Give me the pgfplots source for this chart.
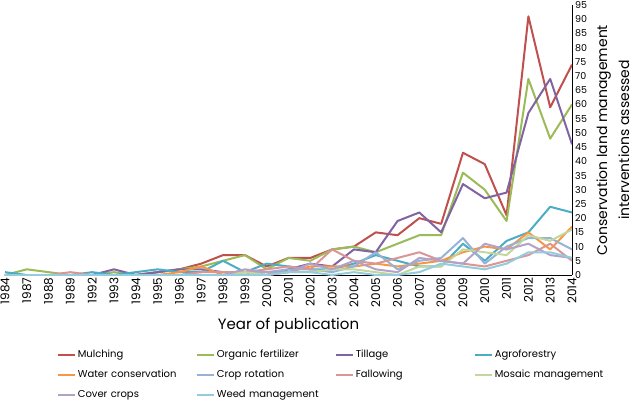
\documentclass[border=0pt]{standalone}
\usepackage{fontspec}
\setmainfont{Poppins}
\usepackage{pgfplots}
\pgfplotsset{compat=1.18}
\definecolor{cMulch}{HTML}{C0504D}
\definecolor{cOrg}{HTML}{9BBB59}
\definecolor{cTill}{HTML}{8064A2}
\definecolor{cAgro}{HTML}{4BACC6}
\definecolor{cWater}{HTML}{F79646}
\definecolor{cCrop}{HTML}{95B3D7}
\definecolor{cFall}{HTML}{D99694}
\definecolor{cMosaic}{HTML}{C3D69B}
\definecolor{cCover}{HTML}{B3A2C7}
\definecolor{cWeed}{HTML}{93CDDD}
\begin{document}
\begin{tikzpicture}
\begin{axis}[
  scale only axis, width=567pt, height=270pt,
  xmin=0, xmax=26, ymin=0, ymax=95,
  axis x line*=bottom, axis y line*=right,
  axis line style={black, line width=1pt},
  ytick={0,5,...,95},
  xtick={0,...,26},
  xticklabels={1984,1987,1988,1989,1992,1993,1994,1995,1996,1997,1998,1999,2000,2001,2002,2003,2004,2005,2006,2007,2008,2009,2010,2011,2012,2013,2014},
  x tick label style={rotate=90, anchor=east, font=\fontsize{12}{12}\selectfont, inner sep=2.5pt},
  y tick label style={font=\fontsize{9.5}{9.5}\selectfont, inner sep=3pt},
  major tick length=0pt,
  /pgf/number format/assume math mode=true,
  xlabel={Year of publication},
  xlabel style={font=\fontsize{15}{15}\selectfont, inner sep=3pt, yshift=-5pt},
  ylabel={Conservation land management\\interventions assessed},
  ylabel style={font=\fontsize{14}{22}\selectfont, align=center, inner sep=3pt, yshift=-3pt},
  legend columns=4,
  legend cell align=left,
  legend style={draw=none, at={(0.091,-0.27)}, anchor=north west,
    font=\fontsize{10}{10}\selectfont, row sep=7pt, inner sep=0pt,
    /tikz/every even column/.append style={text width=116pt, align=left}},
  legend image code/.code={\draw[#1, line width=2pt] (0pt,0pt) -- (17pt,0pt);},
  every axis plot/.append style={line width=2pt, mark=none, line join=round},
]
\addplot[cMulch] coordinates {(0,0)(1,0)(2,0)(3,0)(4,0)(5,0)(6,0)(7,1)(8,2)(9,4)(10,7)(11,7)(12,3)(13,6)(14,6)(15,9)(16,10)(17,15)(18,14)(19,20)(20,18)(21,43)(22,39)(23,21)(24,91)(25,59)(26,74)};
\addlegendentry{Mulching}
\addplot[cOrg] coordinates {(0,0)(1,2)(2,1)(3,0)(4,0)(5,1)(6,0)(7,1)(8,2)(9,3)(10,5)(11,7)(12,2)(13,6)(14,5)(15,9)(16,10)(17,8)(18,11)(19,14)(20,14)(21,36)(22,30)(23,19)(24,69)(25,48)(26,60)};
\addlegendentry{Organic fertilizer}
\addplot[cTill] coordinates {(0,0)(1,0)(2,0)(3,0)(4,0)(5,2)(6,0)(7,1)(8,2)(9,2)(10,1)(11,1)(12,0)(13,2)(14,4)(15,3)(16,9)(17,8)(18,19)(19,22)(20,15)(21,32)(22,27)(23,29)(24,57)(25,69)(26,46)};
\addlegendentry{Tillage}
\addplot[cAgro] coordinates {(0,1)(1,0)(2,0)(3,0)(4,1)(5,0)(6,1)(7,2)(8,1)(9,1)(10,5)(11,1)(12,4)(13,3)(14,2)(15,2)(16,4)(17,7)(18,5)(19,3)(20,3)(21,11)(22,5)(23,12)(24,15)(25,24)(26,22)};
\addlegendentry{Agroforestry}
\addplot[cWater] coordinates {(0,0)(1,0)(2,0)(3,0)(4,0)(5,0)(6,0)(7,0)(8,1)(9,3)(10,0)(11,0)(12,0)(13,1)(14,3)(15,3)(16,3)(17,4)(18,3)(19,4)(20,5)(21,8)(22,10)(23,9)(24,15)(25,9)(26,17)};
\addlegendentry{Water conservation}
\addplot[cCrop] coordinates {(0,0)(1,0)(2,0)(3,0)(4,0)(5,0)(6,0)(7,0)(8,0)(9,0)(10,0)(11,1)(12,1)(13,2)(14,2)(15,1)(16,3)(17,8)(18,2)(19,5)(20,6)(21,13)(22,4)(23,10)(24,13)(25,13)(26,9)};
\addlegendentry{Crop rotation}
\addplot[cFall] coordinates {(0,0)(1,0)(2,0)(3,1)(4,0)(5,0)(6,0)(7,0)(8,0)(9,1)(10,1)(11,1)(12,2)(13,3)(14,2)(15,9)(16,5)(17,4)(18,6)(19,8)(20,5)(21,4)(22,3)(23,5)(24,7)(25,11)(26,5)};
\addlegendentry{Fallowing}
\addplot[cMosaic] coordinates {(0,0)(1,0)(2,0)(3,0)(4,0)(5,0)(6,0)(7,0)(8,0)(9,0)(10,0)(11,1)(12,0)(13,1)(14,1)(15,2)(16,2)(17,1)(18,0)(19,3)(20,3)(21,9)(22,8)(23,7)(24,14)(25,12)(26,16)};
\addlegendentry{Mosaic management}
\addplot[cCover] coordinates {(0,0)(1,0)(2,0)(3,0)(4,0)(5,0)(6,0)(7,0)(8,0)(9,0)(10,0)(11,2)(12,1)(13,1)(14,4)(15,2)(16,5)(17,2)(18,1)(19,6)(20,5)(21,4)(22,11)(23,9)(24,11)(25,7)(26,6)};
\addlegendentry{Cover crops}
\addplot[cWeed] coordinates {(0,0)(1,0)(2,0)(3,0)(4,0)(5,0)(6,0)(7,0)(8,0)(9,0)(10,0)(11,0)(12,0)(13,1)(14,1)(15,0)(16,1)(17,0)(18,0)(19,1)(20,4)(21,3)(22,2)(23,4)(24,8)(25,8)(26,6)};
\addlegendentry{Weed management}
\end{axis}
\pgfresetboundingbox
\path[use as bounding box] (-5pt,-126pt) rectangle (631pt,275pt);
\end{tikzpicture}
\end{document}
